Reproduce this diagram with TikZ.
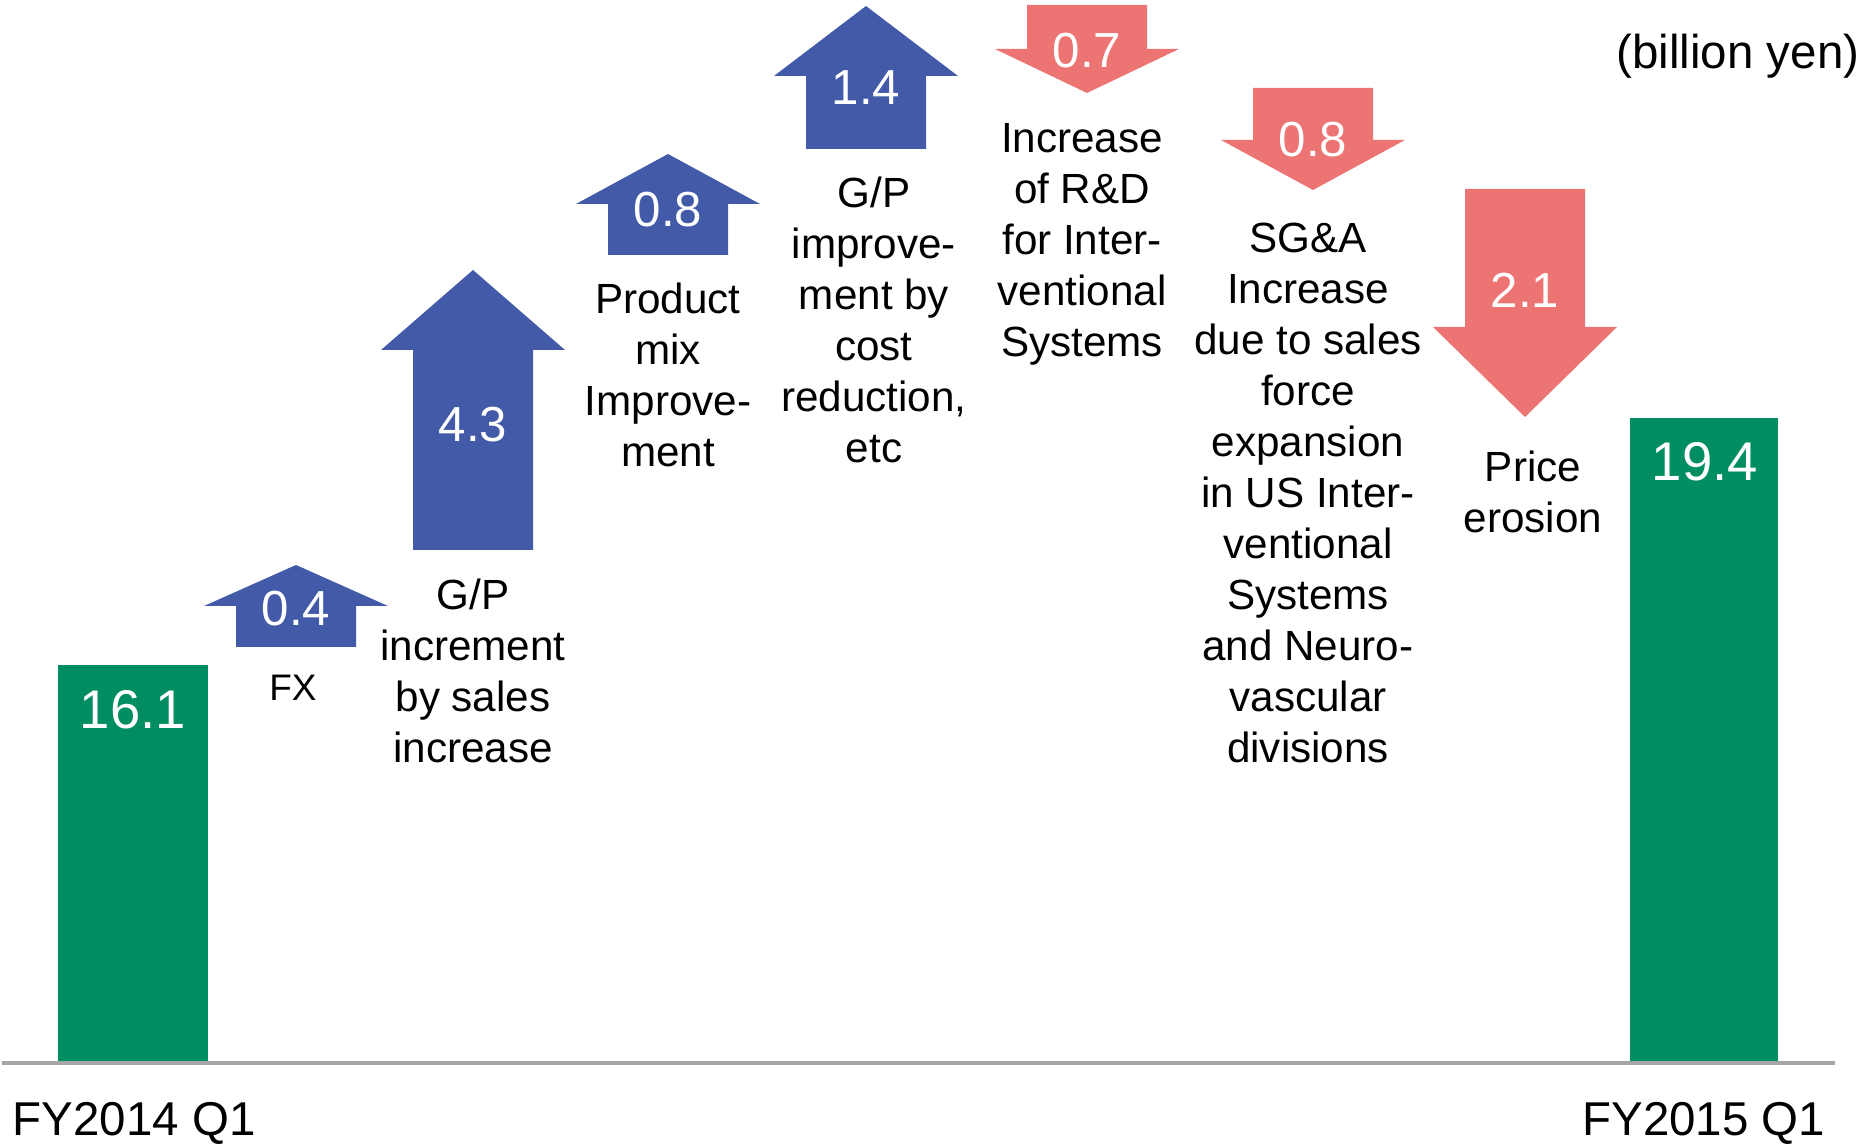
\documentclass[tikz,border=0pt]{standalone}
\usepackage{fontspec}
\setmainfont{Liberation Sans}
\definecolor{barGreen}{RGB}{0,141,98}
\definecolor{gainBlue}{RGB}{67,90,168}
\definecolor{lossRed}{RGB}{236,116,115}
\definecolor{axisGray}{RGB}{166,166,166}

% up / down block arrows: centre x, shaft end, head base, tip
\newcommand{\uparr}[4]{\fill[gain] (#1-60,#2) -- (#1-60,#3) -- (#1-92,#3) -- (#1,#4) -- (#1+92,#3) -- (#1+60,#3) -- (#1+60,#2) -- cycle;}
\newcommand{\downarr}[4]{\fill[loss] (#1-60,#2) -- (#1-60,#3) -- (#1-92,#3) -- (#1,#4) -- (#1+92,#3) -- (#1+60,#3) -- (#1+60,#2) -- cycle;}

\begin{document}
\begin{tikzpicture}[
        x=0.01cm, y=-0.01cm,
        bar/.style={fill=barGreen},
        gain/.style={fill=gainBlue},
        loss/.style={fill=lossRed},
        axis/.style={axisGray, line width=1.1pt},
        val/.style={text=white, inner sep=0pt, font=\fontsize{14}{16}\selectfont},
        total/.style={text=white, inner sep=0pt, font=\fontsize{15.5}{18}\selectfont},
        note/.style={align=center, inner sep=0pt, font=\fontsize{12}{14.5}\selectfont},
        period/.style={inner sep=0pt, font=\fontsize{13.5}{16}\selectfont}
    ]
        \useasboundingbox (0,0) rectangle (1863,1146);

        % Parameters
        \def\base{1063}

        % Bars
        \fill[bar] (58,665) rectangle (208,\base);
        \fill[bar] (1630,418) rectangle (1778,\base);
        \node[total] (start) at (133,710) {16.1};
        \node[total] (end) at (1705,462) {19.4};

        % Axis
        \draw[axis] (2,\base) -- (1835,\base);
        \node[period, anchor=west] (q14) at (12,1123) {FY2014 Q1};
        \node[period, anchor=east] (q15) at (1826,1123) {FY2015 Q1};
        \node[period, anchor=east] (unit) at (1860,56) {(billion yen)};

        % Increases
        \uparr{296}{647}{606}{565}
        \uparr{473}{550}{350}{270}
        \uparr{668}{255}{204}{154}
        \uparr{866}{149}{76}{6}
        \node[val] (fx) at (296,609) {0.4};
        \node[val] (sales) at (473,425) {4.3};
        \node[val] (mix) at (668,210) {0.8};
        \node[val] (cost) at (866,88) {1.4};

        % Decreases
        \downarr{1087}{5}{49}{93}
        \downarr{1313}{88}{140}{190}
        \downarr{1525}{189}{327}{417}
        \node[val] (rnd) at (1087,51) {0.7};
        \node[val] (sga) at (1313,140) {0.8};
        \node[val] (price) at (1525,290) {2.1};

        % Descriptions
        \node[inner sep=0pt, font=\fontsize{10.5}{12}\selectfont] (fxtxt) at (293,688) {FX};
        \node[note] (salestxt) at (473,671) {G/P\\increment\\by sales\\increase};
        \node[note] (mixtxt) at (668,375) {Product\\mix\\Improve-\\ment};
        \node[note] (costtxt) at (874,320) {G/P\\improve-\\ment by\\cost\\reduction,\\etc};
        \node[note] (rndtxt) at (1082,244) {Increase\\of R\&D\\for Inter-\\ventional\\Systems};
        \node[note] (sgatxt) at (1308,493) {SG\&A\\Increase\\due to sales\\force\\expansion\\in US Inter-\\ventional\\Systems\\and Neuro-\\vascular\\divisions};
        \node[note] (pricetxt) at (1533,492) {Price\\erosion};

    \end{tikzpicture}
\end{document}
